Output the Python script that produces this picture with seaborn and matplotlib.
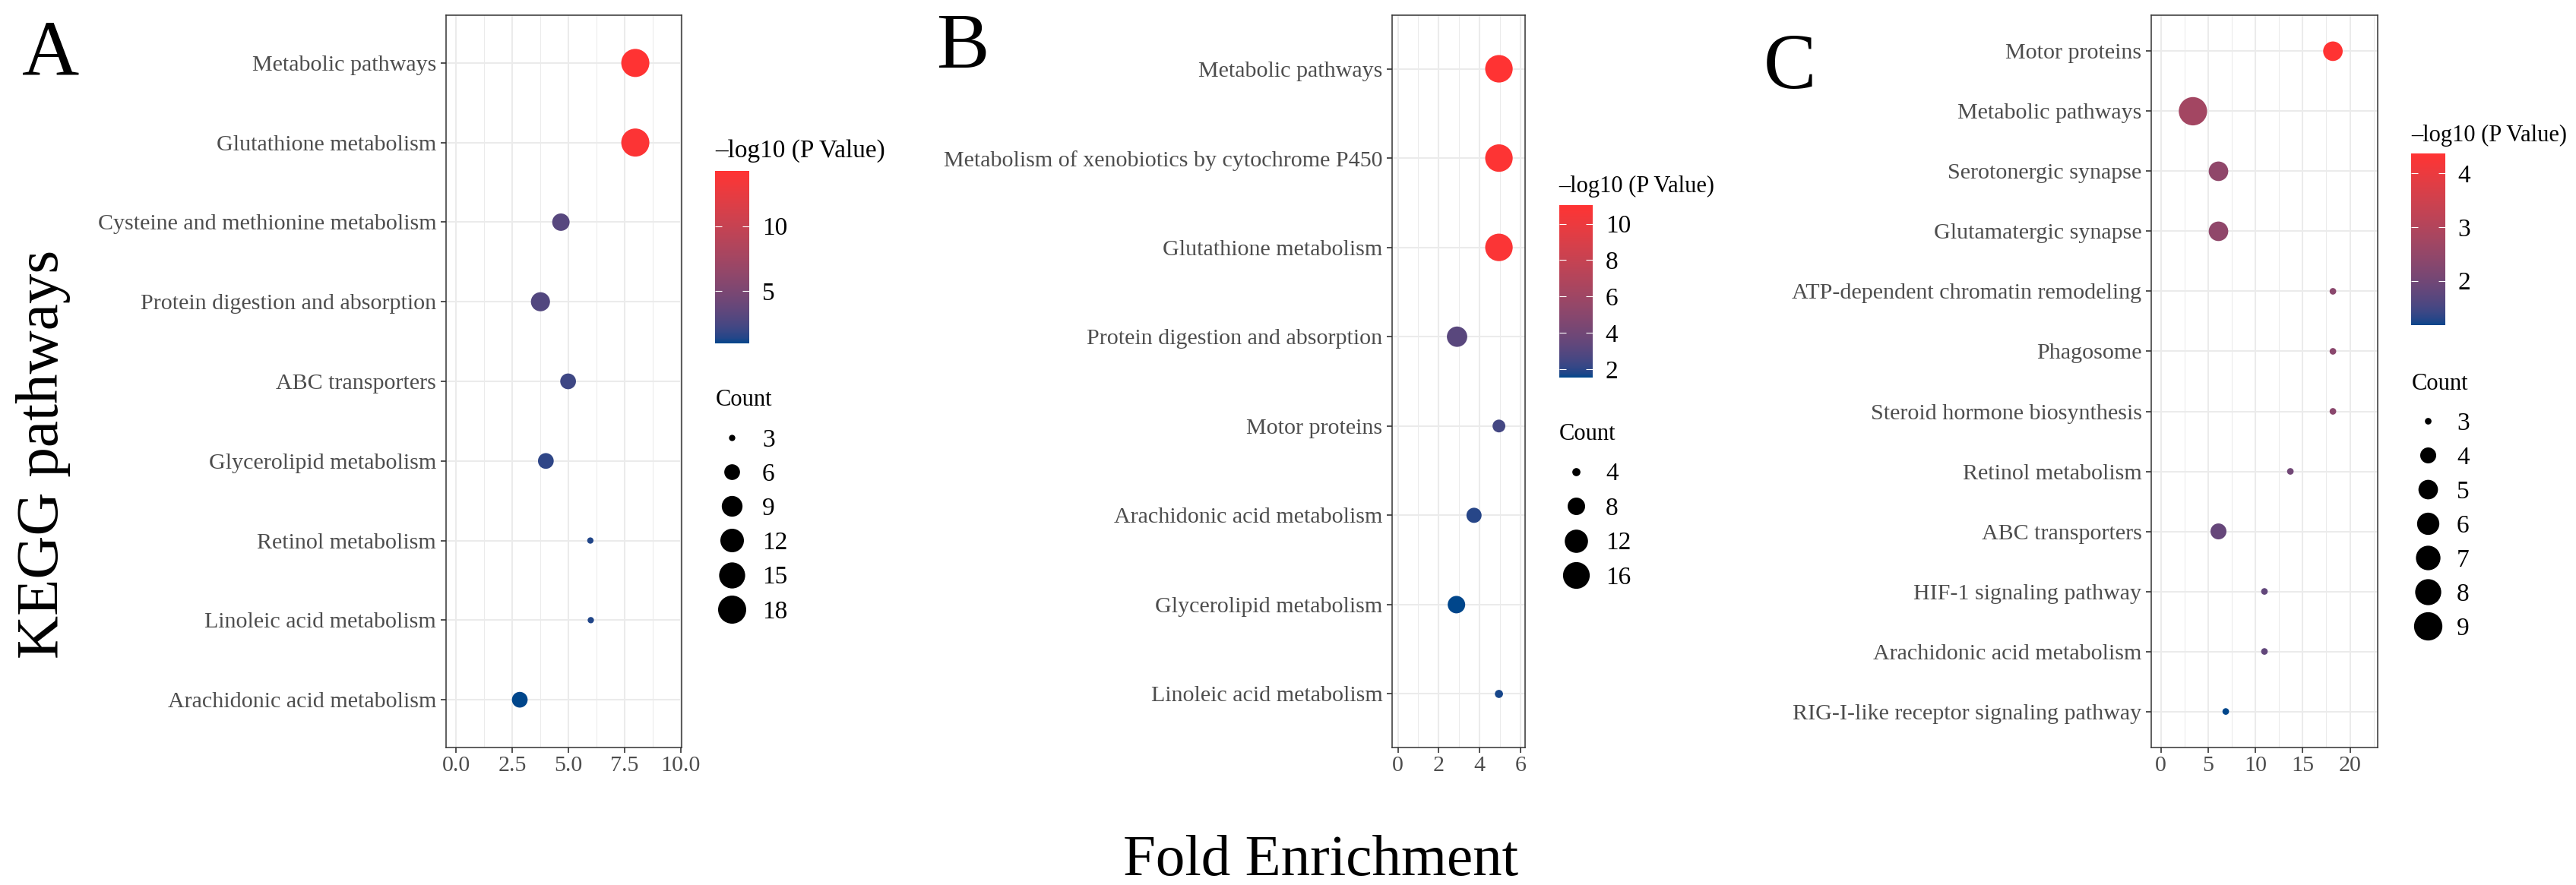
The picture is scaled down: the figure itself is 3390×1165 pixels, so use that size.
import numpy as np
import pandas as pd
import matplotlib
matplotlib.use("Agg")
import matplotlib.pyplot as plt
import matplotlib.colors as mcolors
from matplotlib.cm import ScalarMappable
from matplotlib.ticker import MultipleLocator, FormatStrFormatter
import seaborn as sns

# ---------------- data ----------------
a_pathway = ["Metabolic pathways", "Glutathione metabolism", "Cysteine and methionine metabolism",
             "Protein digestion and absorption", "ABC transporters", "Glycerolipid metabolism",
             "Retinol metabolism", "Linoleic acid metabolism", "Arachidonic acid metabolism"]
a_fold = [7.98, 7.98, 4.67, 3.76, 4.99, 4.0, 5.98, 6.0, 2.84]
a_count = [18, 18, 7, 8, 6, 6, 3, 3, 6]
a_logp = [14.25, 14.0, 3.1, 2.9, 2.1, 1.7, 1.4, 1.4, 1.0]

b_pathway = ["Metabolic pathways", "Metabolism of xenobiotics by cytochrome P450",
             "Glutathione metabolism", "Protein digestion and absorption", "Motor proteins",
             "Arachidonic acid metabolism", "Glycerolipid metabolism", "Linoleic acid metabolism"]
b_fold = [4.95, 4.95, 4.95, 2.9, 4.95, 3.73, 2.87, 4.95]
b_count = [17, 17, 17, 10, 6, 7, 8, 4]
b_logp = [11.03, 10.9, 10.8, 3.1, 2.5, 1.9, 1.54, 1.7]

c_pathway = ["Motor proteins", "Metabolic pathways", "Serotonergic synapse", "Glutamatergic synapse",
             "ATP-dependent chromatin remodeling", "Phagosome", "Steroid hormone biosynthesis",
             "Retinol metabolism", "ABC transporters", "HIF-1 signaling pathway",
             "Arachidonic acid metabolism", "RIG-I-like receptor signaling pathway"]
c_fold = [18.2, 3.4, 6.1, 6.1, 18.2, 18.2, 18.2, 13.7, 6.1, 10.96, 10.96, 6.87]
c_count = [5, 9, 5, 5, 3, 3, 3, 3, 4, 3, 3, 3]
c_logp = [4.37, 2.75, 2.45, 2.45, 2.35, 2.35, 2.35, 2.0, 1.85, 1.8, 1.8, 1.17]

a_count_breaks = [3, 6, 9, 12, 15, 18]
b_count_breaks = [4, 8, 12, 16]
c_count_breaks = [3, 4, 5, 6, 7, 8, 9]
a_p_breaks = [5, 10]
b_p_breaks = [2, 4, 6, 8, 10]
c_p_breaks = [2, 3, 4]

# ---------------- style ----------------
W, H = 3390, 1165
DPI = 100
PX = 72 / DPI  # points per pixel

plt.rcParams["font.family"] = ["Liberation Serif", "DejaVu Serif"]

M_RGB2XYZ = np.array([[0.4124, 0.3576, 0.1805], [0.2126, 0.7152, 0.0722], [0.0193, 0.1192, 0.9505]])
WHITE = np.array([0.95047, 1.0, 1.08883])


def srgb_to_lab(c):
    rgb = np.array(mcolors.to_rgb(c))
    lin = np.where(rgb <= 0.04045, rgb / 12.92, ((rgb + 0.055) / 1.055) ** 2.4)
    xyz = M_RGB2XYZ @ lin / WHITE
    f = np.where(xyz > 0.008856, np.cbrt(xyz), 7.787 * xyz + 16 / 116)
    return np.array([116 * f[1] - 16, 500 * (f[0] - f[1]), 200 * (f[1] - f[2])])


def lab_to_srgb(lab):
    fy = (lab[0] + 16) / 116
    f = np.array([fy + lab[1] / 500, fy, fy - lab[2] / 200])
    xyz = np.where(f ** 3 > 0.008856, f ** 3, (f - 16 / 116) / 7.787) * WHITE
    lin = np.linalg.solve(M_RGB2XYZ, xyz)
    rgb = np.where(lin <= 0.0031308, 12.92 * lin, 1.055 * np.clip(lin, 0, None) ** (1 / 2.4) - 0.055)
    return np.clip(rgb, 0, 1)


# ggplot-like gradient interpolated in Lab space
lo_lab, hi_lab = srgb_to_lab("#00468B"), srgb_to_lab("#FF3333")
cmap = mcolors.ListedColormap([lab_to_srgb(lo_lab + t * (hi_lab - lo_lab)) for t in np.linspace(0, 1, 256)])

fig = plt.figure(figsize=(W / DPI, H / DPI), dpi=DPI)


def px_axes(l, t, r, b):
    return fig.add_axes([l / W, 1 - b / H, (r - l) / W, (b - t) / H])


overlay = fig.add_axes([0, 0, 1, 1], zorder=5)
overlay.set_xlim(0, W)
overlay.set_ylim(H, 0)
overlay.axis("off")

panels = [
    dict(path=a_pathway, fold=a_fold, count=a_count, logp=a_logp, cb=a_count_breaks, pb=a_p_breaks,
         box=(586.7, 20, 896.7, 984), xlim=(-0.45, 10.03), step=2.5, fmt="%.1f",
         dtab=([3, 6, 9, 12, 15, 18], [8.3, 20.7, 27.3, 31, 34.3, 37]),
         cbar=(941, 225, 986, 451.7), ptitle=(941.7, 195), ptsize=24, ctitle=(941.7, 523),
         dot_x=963, lab_x=1003, y0=576, dy=45.15, letter=("A", 29, 98)),
    dict(path=b_pathway, fold=b_fold, count=b_count, logp=b_logp, cb=b_count_breaks, pb=b_p_breaks,
         box=(1832, 20, 2007, 984), xlim=(-0.28, 6.23), step=2, fmt="%d",
         dtab=([4, 8, 12, 16, 20], [10.7, 23, 30.6, 35.2, 39.2]),
         cbar=(2051.5, 270, 2096, 497), ptitle=(2051.7, 241.7), ptsize=22, ctitle=(2051.5, 567.6),
         dot_x=2073.7, lab_x=2113, y0=620.6, dy=45.5, letter=("B", 1233, 89)),
    dict(path=c_pathway, fold=c_fold, count=c_count, logp=c_logp, cb=c_count_breaks, pb=c_p_breaks,
         box=(2831, 20, 3128.6, 984), xlim=(-1.01, 22.9), step=5, fmt="%d",
         dtab=([3, 4, 5, 6, 7, 8, 9], [8.7, 21, 25.7, 29.3, 32.3, 34.3, 37.3]),
         cbar=(3172.7, 202.3, 3217.7, 428.3), ptitle=(3173.3, 175), ptsize=22, ctitle=(3173.3, 501.7),
         dot_x=3195, lab_x=3233, y0=554, dy=45, letter=("C", 2321, 116)),
]

for p in panels:
    df = pd.DataFrame({"Pathway": p["path"], "Fold": p["fold"], "Count": p["count"], "logP": p["logp"]})
    vmin, vmax = df["logP"].min(), df["logP"].max()

    def area(c, tab=p["dtab"]):
        return (np.interp(c, tab[0], tab[1]) * PX) ** 2

    sizes = {c: area(c) for c in sorted(df["Count"].unique())}

    ax = px_axes(*p["box"])
    sns.scatterplot(data=df, x="Fold", y="Pathway", hue="logP", size="Count", sizes=sizes,
                    palette=cmap, hue_norm=(vmin, vmax), linewidth=0, legend=False,
                    ax=ax, zorder=3)
    n = len(p["path"])
    ax.set_ylim(n - 0.4, -0.6)
    ax.set_xlim(*p["xlim"])
    ax.xaxis.set_major_locator(MultipleLocator(p["step"]))
    ax.xaxis.set_minor_locator(MultipleLocator(p["step"] / 2))
    ax.xaxis.set_major_formatter(FormatStrFormatter(p["fmt"]))
    ax.set_axisbelow(True)
    ax.grid(which="major", color="#EBEBEB", lw=1.5)
    ax.grid(which="minor", axis="x", color="#EBEBEB", lw=0.75)
    ax.tick_params(which="major", length=5, width=1.2, color="#333333", labelcolor="#4D4D4D",
                   labelsize=21.6, pad=4)
    ax.tick_params(axis="x", pad=3)
    ax.tick_params(which="minor", length=0)
    for s in ax.spines.values():
        s.set_color("#333333")
        s.set_linewidth(1.1)
    ax.set_xlabel("")
    ax.set_ylabel("")

    # colour bar
    cax = px_axes(*p["cbar"])
    cbar = fig.colorbar(ScalarMappable(norm=mcolors.Normalize(vmin, vmax), cmap=cmap), cax=cax)
    cbar.outline.set_visible(False)
    cbar.set_ticks(p["pb"])
    cax.yaxis.set_ticks_position("both")
    cax.tick_params(direction="in", color="white", length=6.5, width=0.8, labelsize=24,
                    labelleft=False, labelright=True, pad=12, labelcolor="black")
    overlay.text(*p["ptitle"], "\u2013log10 (P Value)", fontsize=p["ptsize"], ha="left",
                 va="center_baseline")

    # size legend
    overlay.text(*p["ctitle"], "Count", fontsize=22, ha="left", va="center_baseline")
    for k, c in enumerate(p["cb"]):
        yk = p["y0"] + k * p["dy"]
        overlay.scatter([p["dot_x"]], [yk], s=area(c), color="black", linewidth=0)
        overlay.text(p["lab_x"], yk, str(c), fontsize=24, ha="left", va="center_baseline")

    lt, lx, ly = p["letter"]
    overlay.text(lx, ly, lt, fontsize=75, ha="left", va="baseline")

overlay.text(76, 598, "KEGG pathways", fontsize=57, rotation=90, rotation_mode="anchor",
             ha="center", va="baseline")
overlay.text(1738, 1152, "Fold Enrichment", fontsize=55.5, ha="center", va="baseline")

fig.savefig("out.png", dpi=DPI)
